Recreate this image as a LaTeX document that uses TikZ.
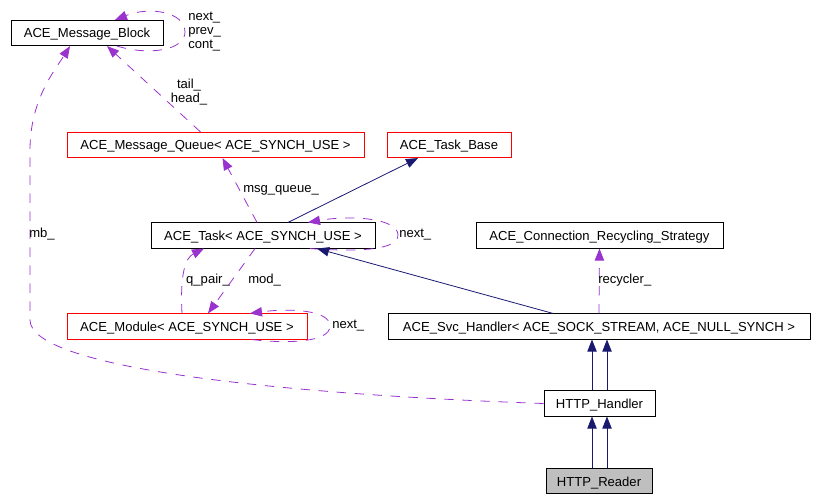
\documentclass[tikz,border=0pt]{standalone}
\usepackage{fontspec}
\setmainfont{Liberation Sans}
\usetikzlibrary{calc,arrows.meta}
\definecolor{navy}{HTML}{191970}
\definecolor{orchid}{HTML}{9A32CD}
\definecolor{greybox}{HTML}{BFBFBF}

\begin{document}
\begin{tikzpicture}[x=0.75pt,y=-0.75pt,
    font=\fontsize{9.8}{10.5}\selectfont,
    cls/.style={draw,line width=0.6pt,minimum height=19pt,inner sep=0pt,text height=9pt,text depth=1.5pt},
    redcls/.style={cls,draw=red},
    inh/.style={navy,line width=0.6pt,-{Triangle[length=9pt,width=7pt]}},
    use/.style={orchid,line width=0.6pt,dash pattern=on 7pt off 6.5pt,-{Triangle[length=9pt,width=7pt]}},
    lbl/.style={inner sep=0pt}]
    \useasboundingbox (0,0) rectangle (815,499);
    \node [cls,minimum width=114pt] (mblock) at (87,33) {ACE\_Message\_Block};
    \node [redcls,minimum width=222.75pt] (mqueue) at (215.5,145) {ACE\_Message\_Queue< ACE\_SYNCH\_USE >};
    \node [redcls,minimum width=93pt] (taskbase) at (449,145) {ACE\_Task\_Base};
    \node [cls,minimum width=168pt] (task) at (263,235.5) {ACE\_Task< ACE\_SYNCH\_USE >};
    \node [cls,minimum width=185.25pt] (recyc) at (599.5,235.5) {ACE\_Connection\_Recycling\_Strategy};
    \node [redcls,minimum width=180pt] (module) at (187,326.5) {ACE\_Module< ACE\_SYNCH\_USE >};
    \node [cls,minimum width=316.5pt] (svc) at (599,326.5) {ACE\_Svc\_Handler< ACE\_SOCK\_STREAM, ACE\_NULL\_SYNCH >};
    \node [cls,minimum width=83.25pt] (handler) at (599.5,403.5) {HTTP\_Handler};
    \node [cls,fill=greybox,minimum width=79.5pt] (reader) at (599,481) {HTTP\_Reader};
    \draw [use] ($(mblock.south)+(30,0)$) .. controls (150,56) and (185,50) .. (185,32)
        .. controls (185,12) and (150,6) .. ($(mblock.north)+(28,0)$);
    \node [lbl,anchor=west,align=left] (mblocklbl) at (188,32) {next\_\\prev\_\\cont\_};
    \draw [use] ($(mqueue.north)+(-15,0)$) -- ($(mblock.south)+(20,0)$);
    \node [lbl,align=center] (queuelbl) at (189,92) {tail\_\\head\_};
    \draw [use] (handler.west) .. controls (300,395) and (30,370) .. (30,320) -- (30,150)
        .. controls (30,100) and (55,70) .. ($(mblock.south)+(-17,0)$);
    \node [lbl] (mblbl) at (42,234) {mb\_};
    \draw [use] ($(task.north)+(-6,0)$) -- ($(mqueue.south)+(7,0)$);
    \node [lbl,anchor=west] (msglbl) at (243,190) {msg\_queue\_};
    \draw [inh] ($(task.north)+(25,0)$) -- ($(taskbase.south)+(-31,0)$);
    \draw [use] ($(task.south)+(47,0)$) .. controls (360,252) and (398,250) .. (398,235)
        .. controls (398,218) and (350,215) .. ($(task.north)+(45,0)$);
    \node [lbl,anchor=west] (tasklbl) at (399,235) {next\_};
    \draw [use] ($(module.north)+(-5,0)$) .. controls (180,275) and (185,258) .. ($(task.south)+(-59,0)$);
    \node [lbl] (qpairlbl) at (208,280) {q\_pair\_};
    \draw [use] ($(task.south)+(-8,0)$) -- ($(module.north)+(21,0)$);
    \node [lbl,anchor=west] (modlbl) at (248,280) {mod\_};
    \draw [use] ($(module.south)+(65,0)$) .. controls (290,344) and (330,342) .. (330,326)
        .. controls (330,310) and (290,308) .. ($(module.north)+(63,0)$);
    \node [lbl,anchor=west] (modulelbl) at (332,326) {next\_};
    \draw [inh] ($(svc.north)+(-46,0)$) -- ($(task.south)+(54,0)$);
    \draw [use] (svc.north) -- (recyc.south);
    \node [lbl,anchor=west] (recyclbl) at (598,280) {recycler\_};
    \draw [inh] ($(handler.north)+(-7.5,0)$) -- ($(svc.south)+(-7,0)$);
    \draw [inh] ($(handler.north)+(7.5,0)$) -- ($(svc.south)+(8,0)$);
    \draw [inh] ($(reader.north)+(-7,0)$) -- ($(handler.south)+(-7.5,0)$);
    \draw [inh] ($(reader.north)+(8,0)$) -- ($(handler.south)+(7.5,0)$);
\end{tikzpicture}
\end{document}
